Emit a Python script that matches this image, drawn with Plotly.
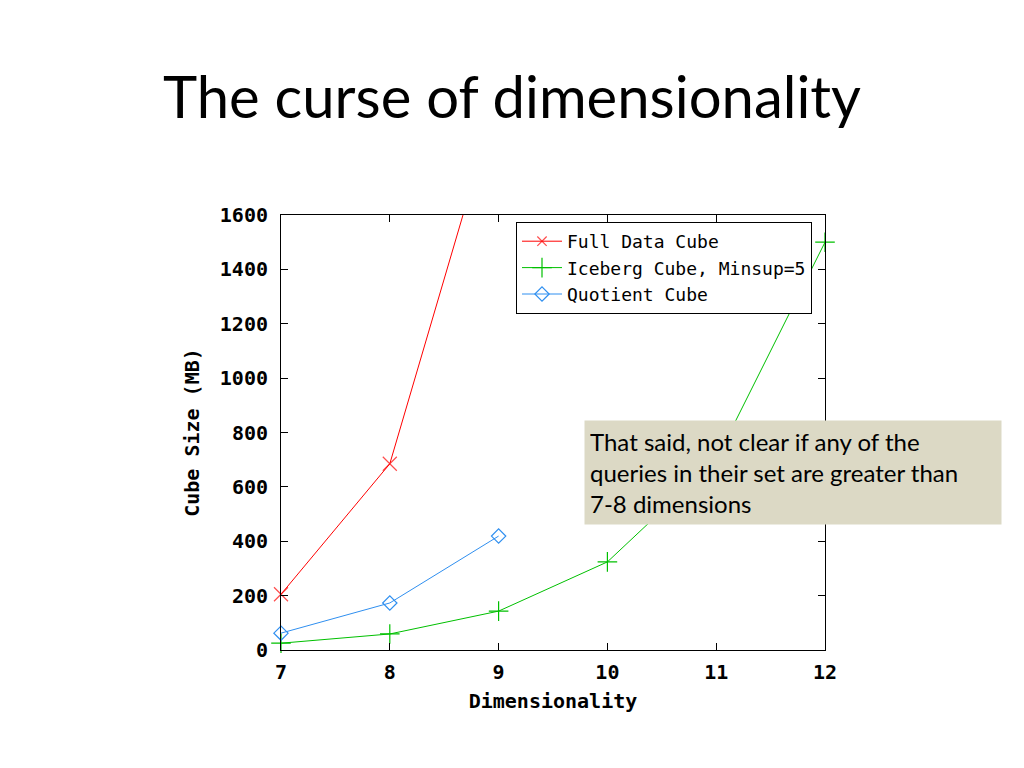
import plotly.graph_objects as go

dims = [7, 8, 9, 10, 11, 12]
full_x = [7, 8, 9]
full_y = [205, 685, 2045]
iceberg_x = [7, 8, 9, 10, 11, 12]
iceberg_y = [25, 59, 143, 324, 700, 1500]
quot_x = [7, 8, 9]
quot_y = [62, 173, 419]
y_ticks = [0, 200, 400, 600, 800, 1000, 1200, 1400, 1600]

mono = "DejaVu Sans Mono"
fig = go.Figure()
fig.add_trace(go.Scatter(x=full_x, y=full_y, mode="lines+markers", name="Full Data Cube",
                         cliponaxis=False,
                         line=dict(color="#ff0000", width=1),
                         marker=dict(symbol="x-thin-open", size=[14, 14, 0], line=dict(color="#ff0000", width=1.2))))
fig.add_trace(go.Scatter(x=iceberg_x, y=iceberg_y, mode="lines+markers", name="Iceberg Cube, Minsup=5",
                         cliponaxis=False,
                         line=dict(color="#00c000", width=1),
                         marker=dict(symbol="cross-thin-open", size=14, line=dict(color="#00c000", width=1.2))))
fig.add_trace(go.Scatter(x=quot_x, y=quot_y, mode="lines+markers", name="Quotient Cube",
                         cliponaxis=False,
                         line=dict(color="#2f8ff0", width=1),
                         marker=dict(symbol="diamond-open", size=11, color="#2f8ff0", line=dict(color="#2f8ff0", width=1.2))))

fig.update_layout(
    width=1024, height=768,
    paper_bgcolor="white", plot_bgcolor="white",
    margin=dict(l=273, r=207, t=207, b=126),
    showlegend=True,
    legend=dict(x=(812 - 281) / 544, y=(650 - 222) / 435, xanchor="right", yanchor="top",
                bordercolor="black", borderwidth=1, bgcolor="white",
                font=dict(family=mono, size=18, color="black"),
                tracegroupgap=0, itemwidth=40),
    title=dict(text="The curse of dimensionality", xref="container", x=155 / 1024, xanchor="left",
               y=0.883, yanchor="middle",
               font=dict(family="Lato", size=58, color="black")),
    annotations=[dict(
        text="That said, not clear if any of the<br>queries in their set are greater than<br>7-8 dimensions",
        xref="paper", yref="paper", x=(584 - 281) / 544, y=(650 - 420) / 435,
        xanchor="left", yanchor="top", align="left", valign="middle",
        showarrow=False, bgcolor="#dcd9c5", borderpad=5, width=406, height=93,
        font=dict(family="Lato", size=24, color="black"))],
)
fig.update_xaxes(range=[7, 12], tickvals=dims, ticks="inside", ticklen=7, mirror="ticks",
                 showline=True, linecolor="black", linewidth=1, showgrid=False, zeroline=False,
                 tickcolor="black", ticklabelstandoff=4,
                 tickfont=dict(family=mono, size=20, color="black", weight="bold"),
                 title=dict(text="Dimensionality", standoff=10,
                            font=dict(family=mono, size=20, color="black", weight="bold")))
fig.update_yaxes(range=[0, 1600], tickvals=y_ticks, ticks="inside", ticklen=7, mirror="ticks",
                 showline=True, linecolor="black", linewidth=1, showgrid=False, zeroline=False,
                 tickcolor="black", ticklabelstandoff=8,
                 tickfont=dict(family=mono, size=20, color="black", weight="bold"),
                 title=dict(text="Cube Size (MB)", standoff=14,
                            font=dict(family=mono, size=20, color="black", weight="bold")))

fig.write_html("out.html")
